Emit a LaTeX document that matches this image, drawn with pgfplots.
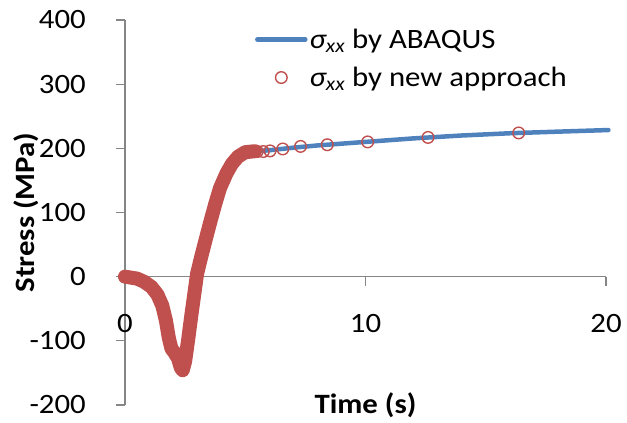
\documentclass[border=0pt]{standalone}
\usepackage{pgfplots}
\pgfplotsset{compat=1.18}
\usepackage{fontspec}
\setmainfont{Carlito}[FakeStretch=1.1]
\definecolor{xblue}{HTML}{4F81BD}
\definecolor{xred}{HTML}{C0504D}
\definecolor{xgray}{HTML}{868686}
\newcommand{\fs}{\fontsize{28}{32}\selectfont}
\pgfplotsset{
  linelegend/.style={legend image code/.code={\draw[##1] (0pt,0pt) -- (48pt,0pt);}},
  marklegend/.style={legend image code/.code={\draw[##1] plot coordinates {(24pt,0pt)};}},
}
\begin{document}
\begin{tikzpicture}
\useasboundingbox (-125pt,-18pt) rectangle (502pt,405pt);
\begin{axis}[
  at={(0pt,0pt)}, anchor=south west,
  scale only axis, width=481pt, height=385pt,
  xmin=0, xmax=20, ymin=-200, ymax=400,
  axis x line=middle, axis y line=left,
  hide obscured x ticks=false,
  axis line style={-, xgray, line width=1.2pt},
  xtick={0,10,20}, ytick={-200,-100,...,400},
  tick style={xgray, line width=1.2pt},
  major tick length=9pt,
  tick align=outside,
  /pgf/number format/assume math mode=true,
  tick label style={font=\fs},
  xticklabel style={anchor=center, yshift=-38pt},
  yticklabel style={anchor=east, inner xsep=0pt, xshift=-30pt},
  clip=false,
  every axis x label/.style={at={(axis description cs:0.5,0)}, anchor=center, font=\fs\bfseries},
  every axis y label/.style={at={(axis description cs:-0.2058,0.5)}, rotate=90, anchor=center, font=\fs\bfseries},
  xlabel={Time (s)},
  ylabel={Stress (MPa)},
  legend style={at={(axis description cs:0.27,0.982)}, anchor=north west, draw=none, fill=none, inner sep=0pt, font=\fs, row sep=13pt},
  legend cell align=left,
]
% ABAQUS curve
\addplot[xblue, line width=4.5pt, line cap=round, line join=round, linelegend]
  coordinates {
  (0,0) (0.5,-3) (0.8,-8) (1.1,-16) (1.35,-28) (1.55,-45) (1.7,-68) (1.82,-95)
  (1.93,-112) (2.05,-118) (2.2,-127) (2.32,-142) (2.4,-146) (2.5,-132) (2.62,-100)
  (2.77,-57) (2.9,-22) (3.0,5) (3.15,28) (3.3,50) (3.53,83) (3.75,113) (3.95,138)
  (4.22,161) (4.45,176) (4.7,187) (5.0,194) (5.5,195.5) (6,197) (7,201) (8,204.5)
  (10,210) (12,215.5) (14,220) (16,223.5) (18,226) (20.1,228.5)
  };
\addlegendentry{\textit{σ\textsubscript{xx}} by ABAQUS}
% new approach: dense early results (drawn as a band)
\addplot[xred, line width=14pt, line cap=round, line join=round, forget plot]
  coordinates {
  (0,0) (0.5,-3) (0.8,-8) (1.1,-16) (1.35,-28) (1.55,-45) (1.7,-68) (1.82,-95)
  (1.93,-112) (2.05,-118) (2.2,-127) (2.32,-142) (2.4,-146) (2.5,-132) (2.62,-100)
  (2.77,-57) (2.9,-22) (3.0,5) (3.15,28) (3.3,50) (3.53,83) (3.75,113) (3.95,138)
  (4.22,161) (4.45,176) (4.7,187) (5.0,194) (5.4,195.5)
  };
% new approach: sparse later results
\addplot[only marks, mark=o, mark size=5.8pt, mark options={xred, line width=1.4pt}, marklegend]
  coordinates {
  (5.5,195) (5.75,195) (6.03,196) (6.56,199) (7.3,203) (8.41,205.6)
  (10.09,210) (12.6,217) (16.37,224)
  };
\addlegendentry{\textit{σ\textsubscript{xx}} by new approach}
\end{axis}
\end{tikzpicture}
\end{document}
